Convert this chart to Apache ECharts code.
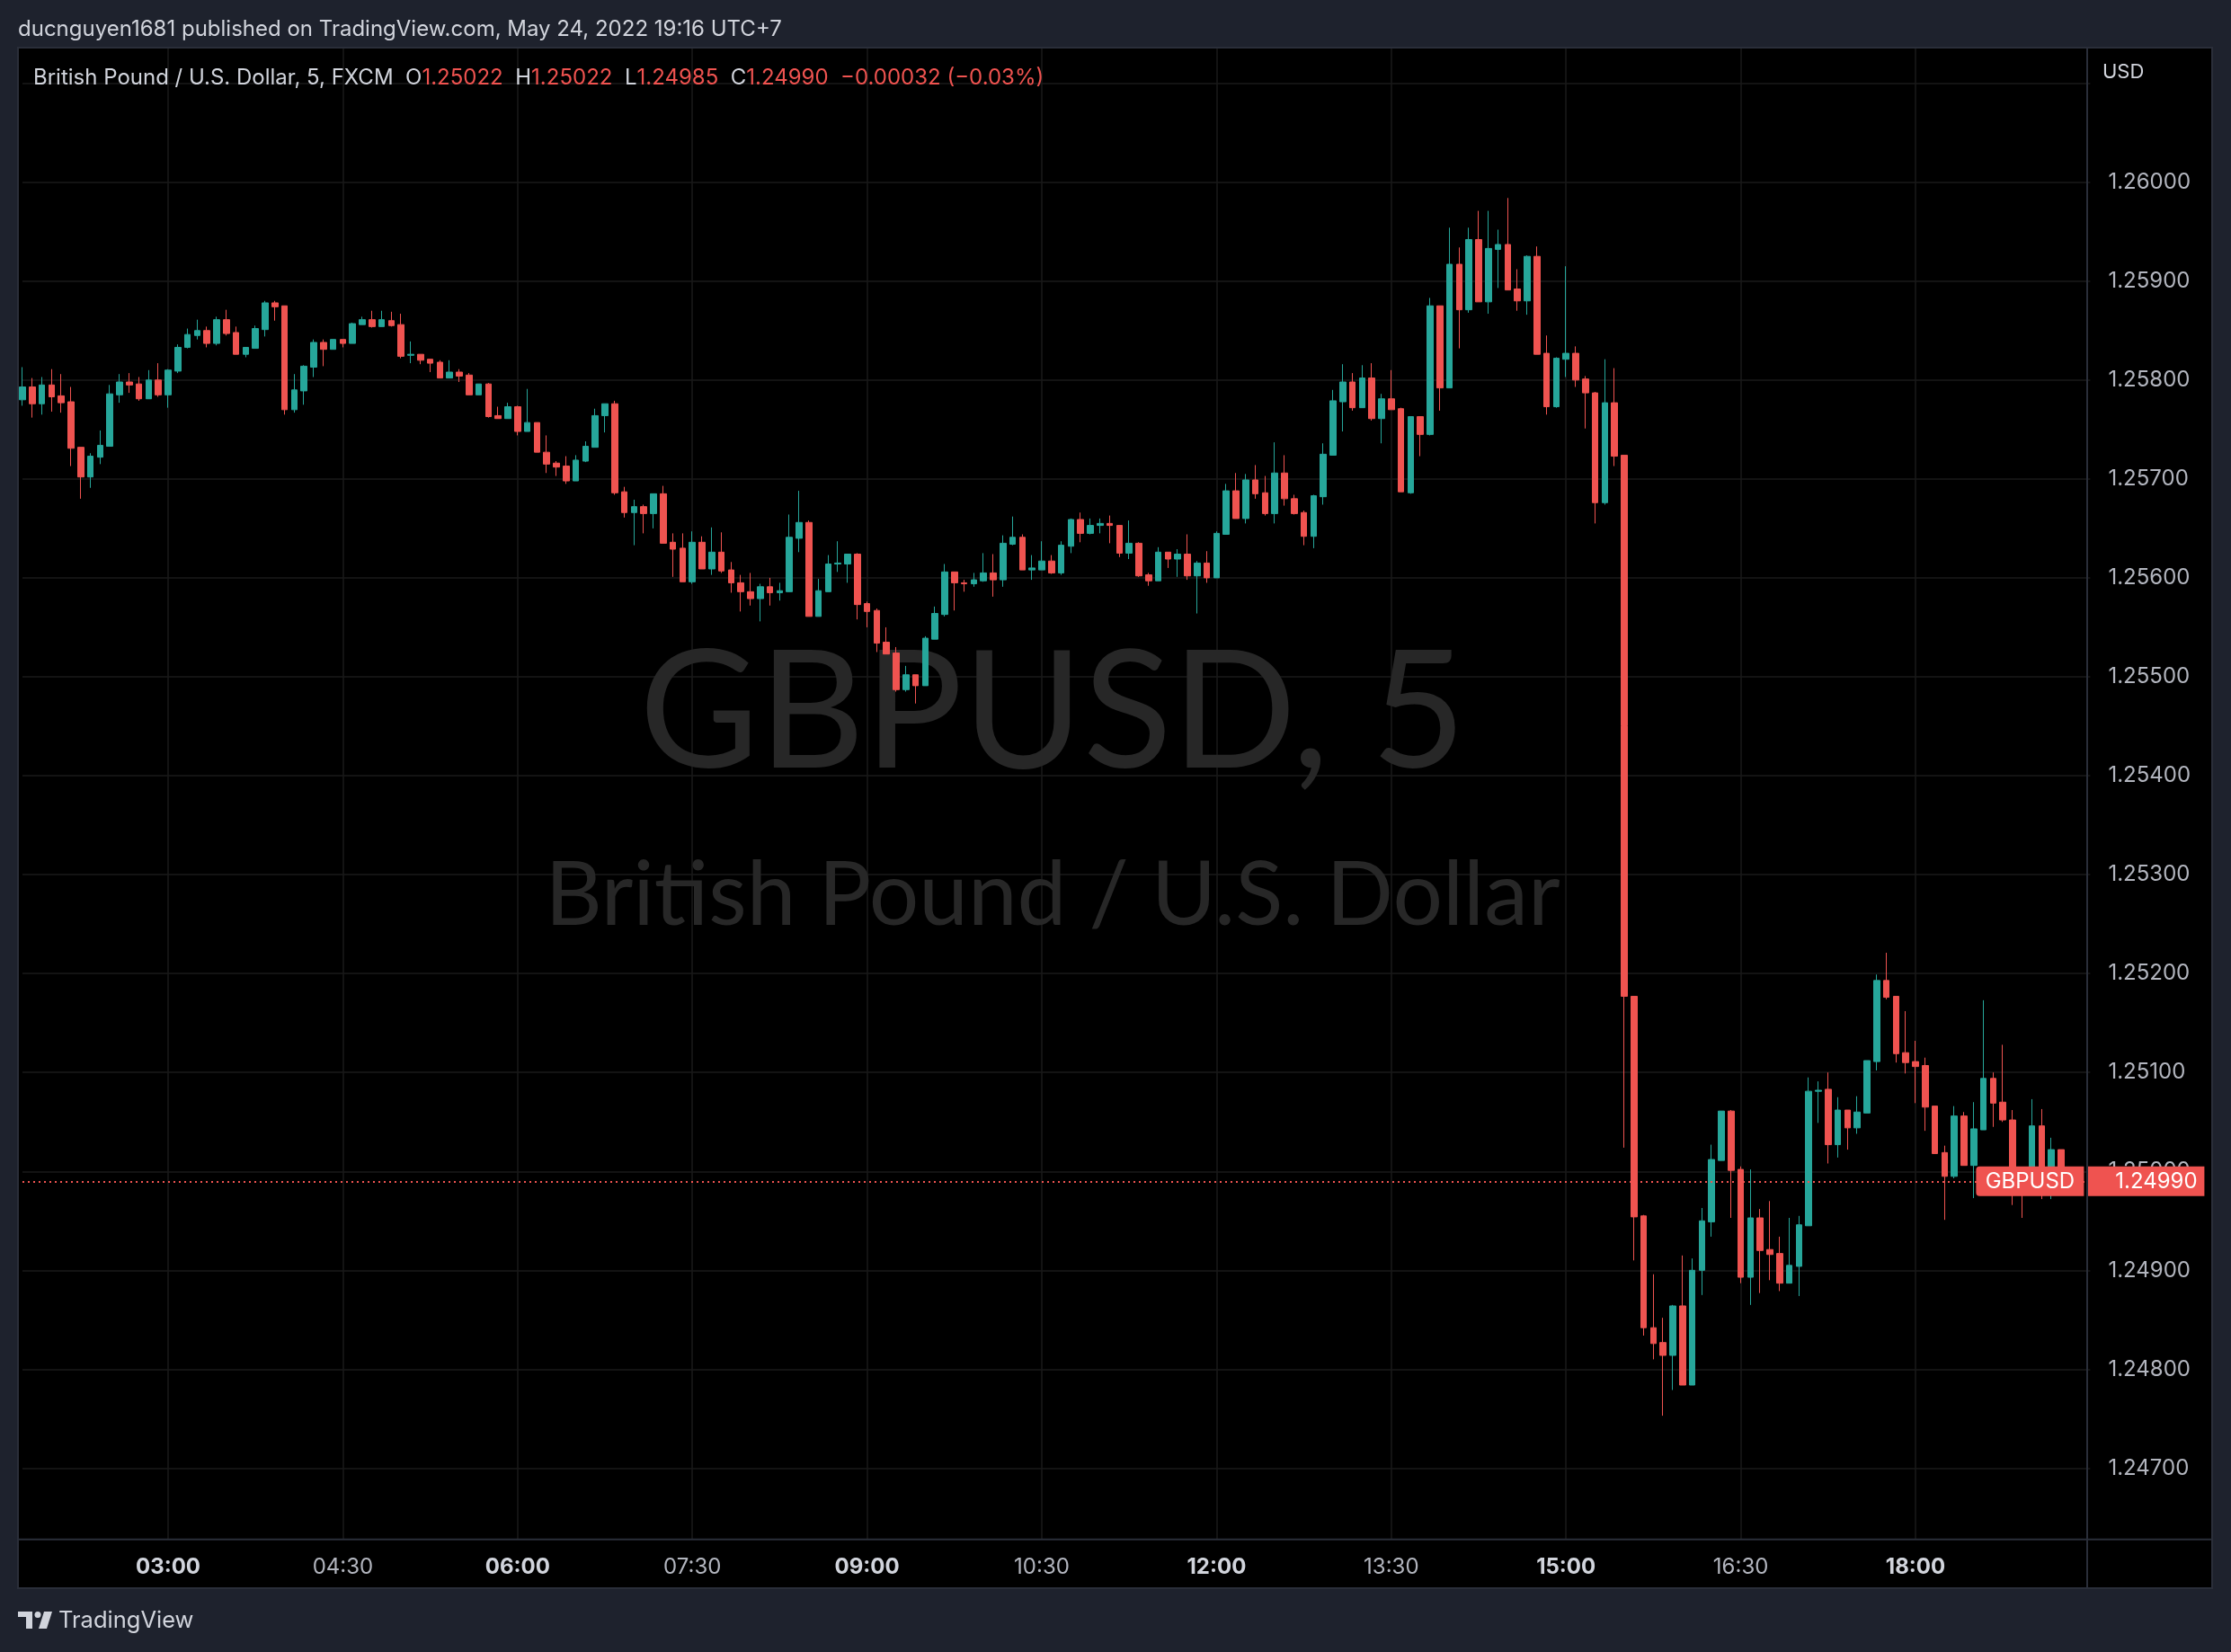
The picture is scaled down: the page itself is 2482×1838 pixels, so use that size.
<!DOCTYPE html>
<html>
<head>
<meta charset="utf-8">
<script src="https://cdn.jsdelivr.net/npm/echarts@6/dist/echarts.min.js"></script>
<style>
html,body{margin:0;padding:0;background:#000;}
#c{width:2482px;height:1838px;}
</style>
</head>
<body>
<div id="c"></div>
<script>
// ---------- DATA ----------
const symbol = 'GBPUSD';
const symbolName = 'British Pound / U.S. Dollar';
const timeframe = '5';
const broker = 'FXCM';
const startTime = '01:45';
const stepMinutes = 5;
const futureSlots = 3;

const open = [
1.25780,1.25793,1.25776,1.25795,1.25784,1.25778,1.25732,1.25702,1.25722,1.25733,
1.25785,1.25798,1.25796,1.25781,1.25800,1.25785,1.25809,1.25833,1.25845,1.25850,
1.25837,1.25861,1.25848,1.25826,1.25832,1.25851,1.25878,1.25875,1.25770,1.25789,
1.25813,1.25838,1.25831,1.25841,1.25837,1.25856,1.25861,1.25854,1.25860,1.25856,
1.25825,1.25826,1.25821,1.25818,1.25802,1.25808,1.25805,1.25785,1.25796,1.25764,
1.25761,1.25773,1.25748,1.25757,1.25727,1.25716,1.25713,1.25698,1.25718,1.25732,
1.25764,1.25776,1.25687,1.25666,1.25672,1.25665,1.25685,1.25636,1.25630,1.25596,
1.25636,1.25609,1.25626,1.25608,1.25595,1.25586,1.25579,1.25591,1.25585,1.25586,
1.25640,1.25656,1.25561,1.25586,1.25614,1.25614,1.25624,1.25574,1.25567,1.25535,
1.25524,1.25487,1.25502,1.25491,1.25538,1.25563,1.25606,1.25595,1.25594,1.25597,
1.25605,1.25598,1.25634,1.25641,1.25608,1.25608,1.25617,1.25605,1.25632,1.25659,
1.25645,1.25653,1.25655,1.25653,1.25625,1.25635,1.25603,1.25597,1.25626,1.25619,
1.25624,1.25602,1.25615,1.25600,1.25644,1.25688,1.25660,1.25699,1.25686,1.25665,
1.25706,1.25680,1.25666,1.25642,1.25682,1.25724,1.25778,1.25798,1.25772,1.25802,
1.25761,1.25781,1.25771,1.25686,1.25763,1.25745,1.25875,1.25792,1.25917,1.25871,
1.25942,1.25879,1.25932,1.25937,1.25892,1.25880,1.25925,1.25827,1.25773,1.25821,
1.25827,1.25801,1.25787,1.25676,1.25777,1.25724,1.25177,1.24955,1.24842,1.24827,
1.24814,1.24864,1.24784,1.24900,1.24949,1.25011,1.25061,1.25002,1.24893,1.24953,
1.24921,1.24917,1.24887,1.24904,1.24945,1.25081,1.25083,1.25027,1.25062,1.25044,
1.25059,1.25111,1.25193,1.25177,1.25120,1.25111,1.25107,1.25066,1.25019,1.24995,
1.25056,1.25006,1.25042,1.25094,1.25070,1.25052,1.24990,1.24985,1.25046,1.25000,1.25022
];
const high = [
1.25813,1.25802,1.25803,1.25811,1.25806,1.25793,1.25732,1.25726,1.25749,1.25795,
1.25806,1.25807,1.25803,1.25810,1.25817,1.25811,1.25836,1.25852,1.25861,1.25854,
1.25864,1.25871,1.25854,1.25833,1.25855,1.25880,1.25880,1.25875,1.25806,1.25815,
1.25841,1.25841,1.25841,1.25841,1.25858,1.25864,1.25870,1.25870,1.25869,1.25867,
1.25839,1.25826,1.25821,1.25820,1.25820,1.25811,1.25807,1.25796,1.25797,1.25773,
1.25777,1.25774,1.25791,1.25757,1.25744,1.25718,1.25723,1.25724,1.25738,1.25771,
1.25776,1.25779,1.25692,1.25679,1.25674,1.25685,1.25693,1.25645,1.25645,1.25647,
1.25642,1.25651,1.25646,1.25616,1.25603,1.25605,1.25594,1.25600,1.25595,1.25664,
1.25688,1.25658,1.25599,1.25623,1.25637,1.25624,1.25625,1.25576,1.25569,1.25550,
1.25530,1.25511,1.25502,1.25541,1.25571,1.25614,1.25606,1.25598,1.25605,1.25625,
1.25624,1.25643,1.25662,1.25644,1.25623,1.25637,1.25623,1.25637,1.25660,1.25666,
1.25660,1.25660,1.25663,1.25653,1.25658,1.25636,1.25605,1.25631,1.25626,1.25629,
1.25644,1.25617,1.25627,1.25647,1.25695,1.25706,1.25705,1.25714,1.25703,1.25737,
1.25724,1.25684,1.25668,1.25684,1.25736,1.25790,1.25816,1.25807,1.25815,1.25817,
1.25786,1.25810,1.25772,1.25763,1.25763,1.25883,1.25875,1.25954,1.25934,1.25954,
1.25971,1.25971,1.25952,1.25984,1.25912,1.25926,1.25935,1.25845,1.25823,1.25915,
1.25834,1.25804,1.25788,1.25821,1.25812,1.25724,1.25177,1.24956,1.24896,1.24852,
1.24865,1.24915,1.24912,1.24963,1.25027,1.25061,1.25062,1.25005,1.25002,1.24962,
1.24970,1.24934,1.24953,1.24955,1.25095,1.25091,1.25100,1.25075,1.25062,1.25076,
1.25112,1.25199,1.25221,1.25177,1.25162,1.25132,1.25115,1.25066,1.25026,1.25066,
1.25060,1.25070,1.25173,1.25100,1.25128,1.25062,1.25000,1.25073,1.25063,1.25034,1.25022
];
const low = [
1.25774,1.25762,1.25765,1.25768,1.25767,1.25713,1.25680,1.25691,1.25715,1.25733,
1.25777,1.25787,1.25779,1.25781,1.25783,1.25772,1.25807,1.25832,1.25841,1.25833,
1.25835,1.25845,1.25826,1.25823,1.25832,1.25844,1.25860,1.25765,1.25767,1.25775,
1.25803,1.25814,1.25831,1.25833,1.25837,1.25856,1.25853,1.25854,1.25854,1.25822,
1.25817,1.25816,1.25808,1.25802,1.25802,1.25798,1.25785,1.25785,1.25762,1.25761,
1.25761,1.25744,1.25748,1.25727,1.25706,1.25703,1.25695,1.25698,1.25717,1.25732,
1.25747,1.25684,1.25661,1.25633,1.25645,1.25650,1.25635,1.25601,1.25596,1.25594,
1.25609,1.25603,1.25605,1.25585,1.25566,1.25572,1.25556,1.25572,1.25577,1.25586,
1.25626,1.25561,1.25561,1.25586,1.25606,1.25595,1.25558,1.25550,1.25525,1.25523,
1.25485,1.25485,1.25473,1.25491,1.25538,1.25561,1.25567,1.25586,1.25591,1.25596,
1.25581,1.25591,1.25633,1.25608,1.25598,1.25608,1.25604,1.25603,1.25625,1.25636,
1.25644,1.25645,1.25635,1.25621,1.25619,1.25601,1.25592,1.25597,1.25610,1.25601,
1.25598,1.25564,1.25595,1.25600,1.25644,1.25660,1.25655,1.25680,1.25663,1.25655,
1.25673,1.25664,1.25633,1.25630,1.25674,1.25724,1.25748,1.25769,1.25772,1.25759,
1.25736,1.25770,1.25687,1.25685,1.25723,1.25744,1.25769,1.25792,1.25832,1.25868,
1.25879,1.25867,1.25893,1.25891,1.25870,1.25866,1.25826,1.25765,1.25772,1.25803,
1.25793,1.25751,1.25655,1.25674,1.25713,1.25024,1.24910,1.24834,1.24810,1.24753,
1.24779,1.24784,1.24784,1.24875,1.24934,1.25011,1.24953,1.24887,1.24865,1.24877,
1.24890,1.24879,1.24887,1.24874,1.24945,1.25049,1.25008,1.25014,1.25022,1.25038,
1.25059,1.25102,1.25174,1.25110,1.25099,1.25069,1.25041,1.25018,1.24951,1.24993,
1.25006,1.24973,1.25042,1.25045,1.25050,1.24966,1.24953,1.24980,1.24972,1.24972,1.24985
];
const close = [
1.25793,1.25776,1.25795,1.25783,1.25777,1.25731,1.25702,1.25723,1.25734,1.25786,
1.25798,1.25795,1.25781,1.25800,1.25785,1.25810,1.25833,1.25846,1.25850,1.25837,
1.25861,1.25847,1.25826,1.25833,1.25852,1.25878,1.25874,1.25770,1.25790,1.25814,
1.25838,1.25831,1.25841,1.25837,1.25857,1.25861,1.25854,1.25861,1.25855,1.25824,
1.25826,1.25820,1.25817,1.25802,1.25808,1.25804,1.25785,1.25796,1.25763,1.25761,
1.25773,1.25748,1.25757,1.25727,1.25715,1.25712,1.25698,1.25719,1.25733,1.25764,
1.25776,1.25686,1.25666,1.25672,1.25665,1.25685,1.25635,1.25629,1.25596,1.25636,
1.25609,1.25626,1.25607,1.25595,1.25586,1.25579,1.25591,1.25585,1.25587,1.25641,
1.25656,1.25561,1.25587,1.25614,1.25615,1.25624,1.25573,1.25566,1.25534,1.25523,
1.25487,1.25502,1.25491,1.25539,1.25564,1.25606,1.25595,1.25594,1.25598,1.25605,
1.25598,1.25635,1.25641,1.25608,1.25610,1.25617,1.25605,1.25633,1.25659,1.25645,
1.25653,1.25655,1.25653,1.25625,1.25635,1.25602,1.25597,1.25626,1.25619,1.25624,
1.25602,1.25615,1.25600,1.25645,1.25688,1.25660,1.25699,1.25685,1.25665,1.25706,
1.25680,1.25665,1.25642,1.25683,1.25725,1.25779,1.25798,1.25772,1.25802,1.25761,
1.25781,1.25770,1.25687,1.25763,1.25745,1.25875,1.25792,1.25917,1.25871,1.25942,
1.25879,1.25933,1.25937,1.25891,1.25880,1.25925,1.25826,1.25773,1.25822,1.25827,
1.25800,1.25787,1.25676,1.25777,1.25723,1.25177,1.24954,1.24842,1.24826,1.24814,
1.24864,1.24784,1.24900,1.24950,1.25012,1.25061,1.25001,1.24893,1.24953,1.24920,
1.24916,1.24887,1.24905,1.24946,1.25081,1.25082,1.25027,1.25062,1.25044,1.25060,
1.25112,1.25193,1.25176,1.25119,1.25110,1.25106,1.25065,1.25018,1.24995,1.25056,
1.25006,1.25043,1.25094,1.25069,1.25052,1.24990,1.24985,1.25046,1.25000,1.25022,1.24990
];

const timeLabels = ['03:00','04:30','06:00','07:30','09:00','10:30','12:00','13:30','15:00','16:30','18:00'];
const boldLabels = ['03:00','06:00','09:00','12:00','15:00','18:00'];
const priceMin = 1.24628;
const priceMax = 1.26136;
const headerText = 'ducnguyen1681 published on TradingView.com, May 24, 2022 19:16 UTC+7';

// ---------- BUILD ----------
function buildTimes(start, count, step) {
  const p = start.split(':').map(Number);
  const t0 = p[0] * 60 + p[1];
  const out = [];
  for (let i = 0; i < count; i++) {
    const m = t0 + i * step;
    out.push(String(Math.floor(m / 60) % 24).padStart(2, '0') + ':' + String(m % 60).padStart(2, '0'));
  }
  return out;
}
const categories = buildTimes(startTime, open.length + futureSlots, stepMinutes);
const candleData = open.map((o, i) => [o, close[i], low[i], high[i]]);

const n = close.length;
const lastO = open[n - 1], lastH = high[n - 1], lastL = low[n - 1], lastC = close[n - 1];
const chg = lastC - close[n - 2];
const pct = chg / close[n - 2] * 100;
const MINUS = '\u2212';
const sgn = (v, d) => (v < 0 ? MINUS : '+') + Math.abs(v).toFixed(d);

const UP = '#26a69a', DOWN = '#ef5350';
const TXT = '#d1d4dc', AX = '#b2b5be', GRID = '#1a1a1a', SEP = '#2a2e39', FRAME = '#1e222d';
const FONT = 'Inter, Roboto, sans-serif';
const FS = 24;

const legendRich = '{g|' + symbolName + ', ' + timeframe + ', ' + broker + '}  ' +
  '{g|O}{r|' + lastO.toFixed(5) + '}  {g|H}{r|' + lastH.toFixed(5) + '}  ' +
  '{g|L}{r|' + lastL.toFixed(5) + '}  {g|C}{r|' + lastC.toFixed(5) + '}  ' +
  '{r|' + sgn(chg, 5) + ' (' + sgn(pct, 2) + '%)}';

const chart = echarts.init(document.getElementById('c'), null, {renderer: 'canvas'});
chart.setOption({
  backgroundColor: '#000000',
  animation: false,
  grid: {left: 25, top: 53, width: 2300.4, height: 1659.7, outerBoundsMode: 'none', containLabel: false},
  xAxis: {
    type: 'category', data: categories, boundaryGap: false,
    axisLine: {show: false}, axisTick: {show: false},
    axisLabel: {
      interval: (i, v) => timeLabels.includes(v),
      margin: 19,
      formatter: v => boldLabels.includes(v) ? '{b|' + v + '}' : '{n|' + v + '}',
      rich: {
        b: {fontFamily: FONT, fontSize: FS, fontWeight: 'bold', color: TXT},
        n: {fontFamily: FONT, fontSize: FS, color: AX}
      }
    },
    splitLine: {show: true, interval: (i, v) => timeLabels.includes(v), lineStyle: {color: GRID, width: 1.5}}
  },
  yAxis: {
    type: 'value', position: 'right', min: priceMin, max: priceMax, splitNumber: 15,
    axisLine: {show: false}, axisTick: {show: false},
    axisLabel: {
      margin: 20, color: AX, fontFamily: FONT, fontSize: FS,
      showMinLabel: false, showMaxLabel: false,
      formatter: v => (v > 1.2605 || Math.abs(v * 1000 - Math.round(v * 1000)) > 1e-6) ? '' : v.toFixed(5)
    },
    splitLine: {show: true, showMinLine: false, showMaxLine: false, lineStyle: {color: GRID, width: 1.5}}
  },
  series: [{
    type: 'candlestick', data: candleData, barWidth: 7, clip: false,
    itemStyle: {color: UP, color0: DOWN, borderColor: UP, borderColor0: DOWN, borderWidth: 1},
    markLine: {
      silent: true, symbol: ['none', 'none'], animation: false, precision: 5,
      lineStyle: {color: DOWN, type: [2, 4], width: 2},
      data: [{yAxis: lastC}],
      label: {
        show: true, position: 'end', distance: -127,
        formatter: () => '{a|' + symbol + '}{s|}{b|' + lastC.toFixed(5) + '}',
        rich: {
          a: {backgroundColor: DOWN, color: '#ffffff', fontFamily: FONT, fontSize: FS, width: 120, height: 33, lineHeight: 33, align: 'center', borderRadius: [4, 0, 0, 4]},
          s: {width: 4, height: 33},
          b: {backgroundColor: DOWN, color: '#ffffff', fontFamily: FONT, fontSize: FS, width: 107, height: 33, lineHeight: 33, align: 'left', padding: [0, 0, 0, 23]}
        }
      }
    }
  }],
  graphic: [
    // watermark
    {type: 'text', z: 1, x: 1171, y: 795, silent: true,
      style: {text: symbol + ', ' + timeframe, font: '182px Lato, sans-serif', fill: '#272727', align: 'center', verticalAlign: 'middle', textAlign: 'center', textVerticalAlign: 'middle'}},
    {type: 'text', z: 1, x: 1171, y: 997, silent: true,
      style: {text: symbolName, font: '98px Lato, sans-serif', fill: '#272727', align: 'center', verticalAlign: 'middle', textAlign: 'center', textVerticalAlign: 'middle'}},
    // frame
    {type: 'rect', z: 50, silent: true, shape: {x: 0, y: 0, width: 2482, height: 53}, style: {fill: FRAME}},
    {type: 'rect', z: 50, silent: true, shape: {x: 0, y: 1767, width: 2482, height: 71}, style: {fill: FRAME}},
    {type: 'rect', z: 50, silent: true, shape: {x: 0, y: 0, width: 20, height: 1838}, style: {fill: FRAME}},
    {type: 'rect', z: 50, silent: true, shape: {x: 2461, y: 0, width: 21, height: 1838}, style: {fill: FRAME}},
    // separators
    {type: 'rect', z: 55, silent: true, shape: {x: 20, y: 53, width: 2441, height: 1714}, style: {fill: 'none', stroke: SEP, lineWidth: 2}},
    {type: 'line', z: 55, silent: true, shape: {x1: 2322, y1: 53, x2: 2322, y2: 1767}, style: {stroke: SEP, lineWidth: 2}},
    {type: 'line', z: 55, silent: true, shape: {x1: 20, y1: 1712.7, x2: 2461, y2: 1712.7}, style: {stroke: SEP, lineWidth: 2}},
    // header
    {type: 'text', z: 60, x: 20, y: 33, silent: true,
      style: {text: headerText, font: FS + 'px ' + FONT, fill: TXT, verticalAlign: 'middle', textVerticalAlign: 'middle'}},
    {type: 'text', z: 60, x: 37, y: 87, silent: true,
      style: {text: legendRich, font: FS + 'px ' + FONT, fill: TXT, verticalAlign: 'middle', textVerticalAlign: 'middle',
        rich: {g: {fill: TXT, font: FS + 'px ' + FONT}, r: {fill: DOWN, font: FS + 'px ' + FONT}}}},
    {type: 'text', z: 60, x: 2339, y: 80, silent: true,
      style: {text: 'USD', font: '22px ' + FONT, fill: TXT, verticalAlign: 'middle', textVerticalAlign: 'middle'}},
    // TradingView logo
    {type: 'rect', z: 60, silent: true, shape: {x: 20, y: 1793, width: 16, height: 6}, style: {fill: TXT}},
    {type: 'rect', z: 60, silent: true, shape: {x: 29, y: 1793, width: 7, height: 19}, style: {fill: TXT}},
    {type: 'circle', z: 60, silent: true, shape: {cx: 42, cy: 1796.5, r: 3.5}, style: {fill: TXT}},
    {type: 'polygon', z: 60, silent: true, shape: {points: [[49, 1793], [58, 1793], [52, 1812], [43, 1812]]}, style: {fill: TXT}},
    {type: 'text', z: 60, x: 65, y: 1803, silent: true,
      style: {text: 'TradingView', font: '25.5px ' + FONT, fill: TXT, verticalAlign: 'middle', textVerticalAlign: 'middle'}}
  ]
});
</script>
</body>
</html>
